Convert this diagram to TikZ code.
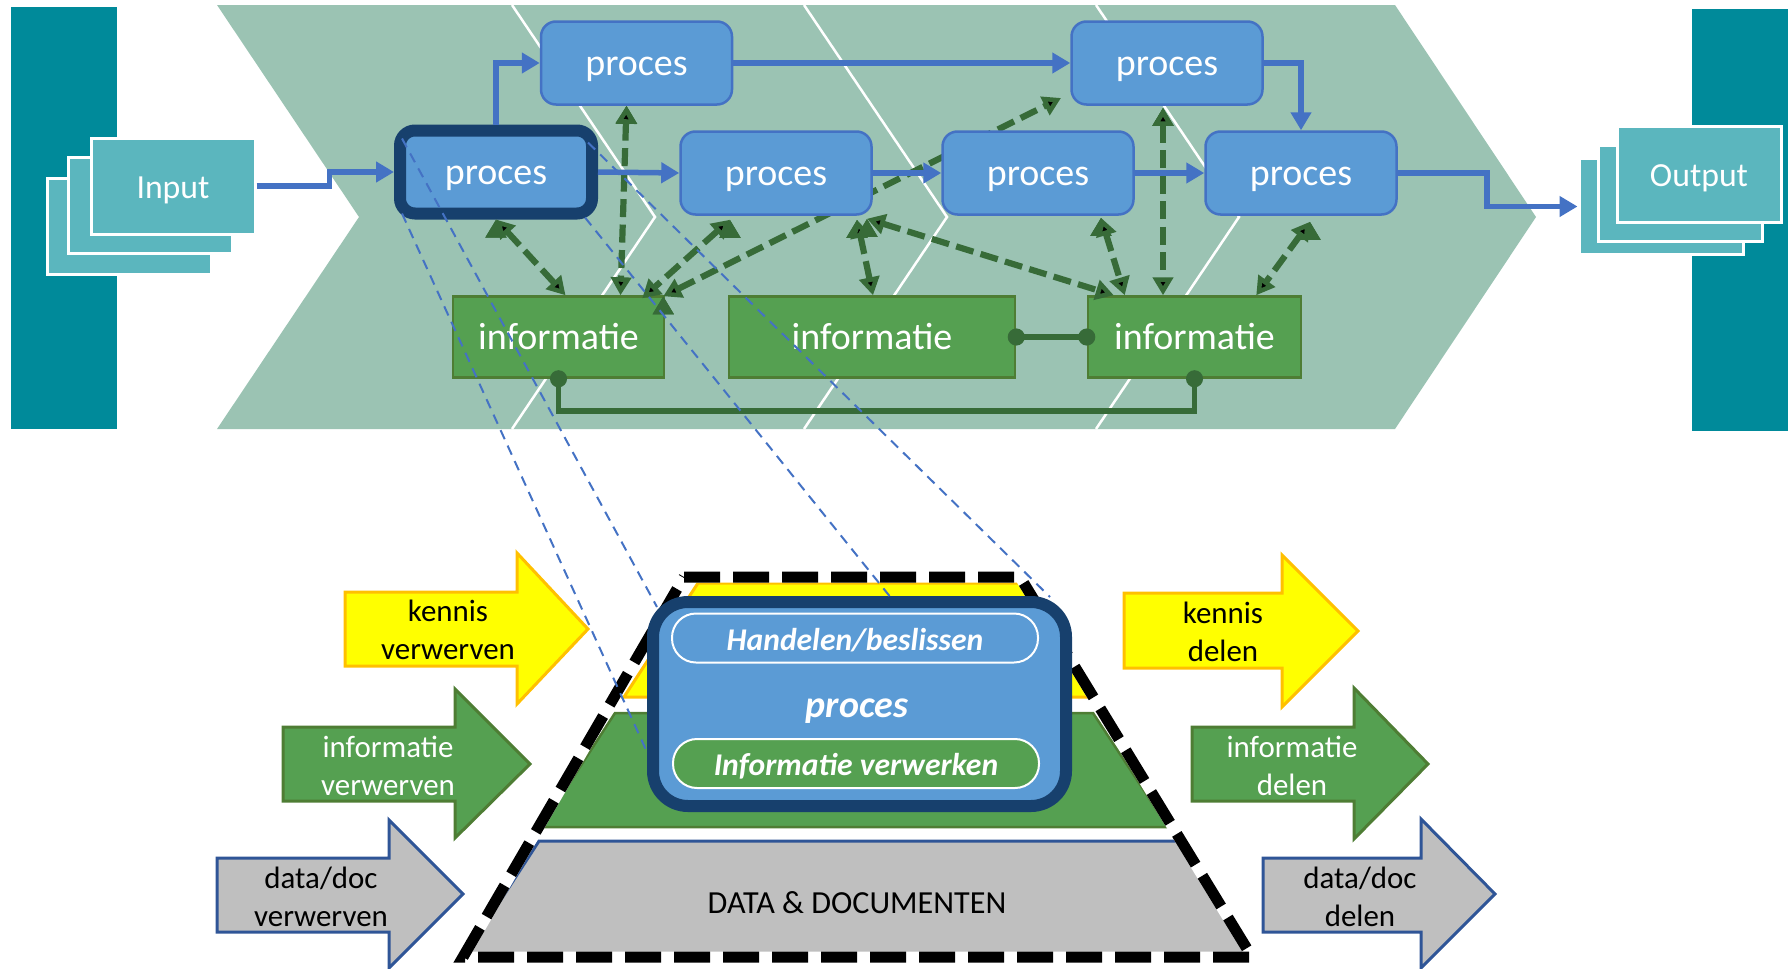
\documentclass[tikz,border=0pt]{standalone}
\usepackage{fontspec}
\setmainfont{Carlito}
\usepackage{tikz}
\usetikzlibrary{arrows.meta,positioning,calc}

\definecolor{balk}{HTML}{008A9A}
\definecolor{stapelvlak}{HTML}{5BB6BE}
\definecolor{pijlvlak}{HTML}{9BC3B3}
\definecolor{procesvlak}{HTML}{5B9BD5}
\definecolor{procesrand}{HTML}{4472C4}
\definecolor{donkerrand}{HTML}{17406D}
\definecolor{infovlak}{HTML}{55A051}
\definecolor{inforand}{HTML}{4E7D34}
\definecolor{donkergroen}{HTML}{376B38}
\definecolor{lijnblauw}{HTML}{4472C4}
\definecolor{geel}{HTML}{FFFF00}
\definecolor{geelrand}{HTML}{FFC000}
\definecolor{grijs}{HTML}{BFBFBF}
\definecolor{grijsrand}{HTML}{2F5597}

\begin{document}
\begin{tikzpicture}[x=0.1mm,y=-0.1mm,
	proces/.style={rectangle, rounded corners=1.5mm, draw=procesrand, fill=procesvlak, line width=0.25mm, minimum width=19.1mm, minimum height=8.3mm, text=white, text height=7pt, text depth=0pt, font=\fontsize{10.8pt}{12pt}\selectfont},
	info/.style={rectangle, draw=inforand, fill=infovlak, line width=0.25mm, minimum height=8.1mm, text=white, text height=7pt, text depth=0pt, font=\fontsize{10.8pt}{12pt}\selectfont},
	stapel/.style={rectangle, draw=white, fill=stapelvlak, line width=0.3mm, minimum width=16.4mm, minimum height=9.6mm, text=white, text height=7pt, text depth=0pt, font=\fontsize{9.6pt}{11pt}\selectfont},
	stroom/.style={draw=lijnblauw, line width=0.55mm, -{Triangle[length=1.8mm,width=2mm]}},
	koppeling/.style={draw=donkergroen, line width=0.62mm, dash pattern=on 1.8mm off 0.75mm, {Triangle[length=1.8mm,width=2mm]}-{Triangle[length=1.8mm,width=2mm]}},
	verbinding/.style={draw=donkergroen, line width=0.55mm, {Circle[length=1.7mm]}-{Circle[length=1.7mm]}, shorten <=-0.85mm, shorten >=-0.85mm},
	projectie/.style={draw=lijnblauw, line width=0.2mm, dash pattern=on 1mm off 0.7mm},
	pijltekst/.style={align=center, inner sep=0pt, font=\fontsize{8.8pt}{10.8pt}\selectfont},
	pil/.style={rectangle, rounded corners=2.4mm, draw=white, line width=0.2mm, minimum width=36.6mm, minimum height=4.9mm, inner sep=0pt, text=white, text height=7pt, text depth=0pt, font=\bfseries\itshape\fontsize{9pt}{10pt}\selectfont}]
	\useasboundingbox (0,0) rectangle (1788,969);

	\fill[balk] (11,7) rectangle (117,429);
	\fill[balk] (1692,9) rectangle (1788,431);
	\fill[pijlvlak] (217,5) -- (1395,5) -- (1536,217) -- (1395,429) -- (217,429) -- (359,217) -- cycle;
	\foreach \x in {512,804,1096}
		\draw[white, line width=0.25mm] (\x,5) -- (\x+143,217) -- (\x,429);

	\node[stapel] (in3) at (129.5,226) {};
	\node[stapel] (in2) at (150.5,205) {};
	\node[stapel] (input) at (173,186) {Input};
	\node[stapel] (out3) at (1661,206.5) {};
	\node[stapel] (out2) at (1680,193.5) {};
	\node[stapel] (output) at (1699,174.5) {Output};

	\node[info, minimum width=21.1mm] (i1) at (558.5,337) {informatie};
	\node[info, minimum width=28.6mm] (i2) at (872,337) {informatie};
	\node[info, minimum width=21.3mm] (i3) at (1194.5,337) {informatie};

	\path[koppeling] ($(i1.north east)+(-2,1)$) edge ($(1061,98)$);
	\node[proces, draw=donkerrand, line width=1.2mm, minimum width=19.2mm, minimum height=8.3mm] (p1) at (496,172) {proces};
	\node[proces] (p2) at (636.5,63) {proces};
	\node[proces] (p3) at (776,173) {proces};
	\node[proces] (p4) at (1038,173) {proces};
	\node[proces] (p5) at (1167,63) {proces};
	\node[proces] (p6) at (1301,173) {proces};

	\path[koppeling] (p1.south) edge ($(i1.north)+(7,0)$);
	\path[koppeling] ($(p2.south)+(-10,0)$) edge ($(i1.north)+(62,0)$);
	\path[koppeling] ($(p3.south)+(-46,4)$) edge ($(i1.north east)+(-23,3)$);
	\path[koppeling] ($(p3.south)+(81,4)$) edge ($(i2.north)+(1,0)$);
	\path[koppeling] ($(p3.south)+(91,3)$) edge ($(i3.north west)+(27,0)$);
	\path[koppeling] ($(p4.south)+(63,2)$) edge ($(i3.north west)+(38,0)$);
	\path[koppeling] ($(p5.south)+(-4,2)$) edge ($(i3.north)+(-31.5,0)$);
	\path[koppeling] ($(p6.south)+(9,6)$) edge ($(i3.north east)+(-46,0)$);

	\draw[stroom] (input.east) -- ++(73,0) |- (p1.west);
	\draw[stroom] (p1.north) |- (p2.west);
	\draw[stroom] (p1.east) -- (p3.west);
	\draw[stroom] (p2.east) -- (p5.west);
	\draw[stroom] (p3.east) -- (p4.west);
	\draw[stroom] (p4.east) -- (p6.west);
	\draw[stroom] (p5.east) -| (p6.north);
	\draw[stroom] (p6.east) -- ++(89,0) |- (out3.west);

	\draw[verbinding] (i2.east) -- (i3.west);
	\draw[verbinding] (i1.south) -- ++(0,32) -| (i3.south);

	\filldraw[fill=geel, draw=geelrand, line width=0.3mm] (698,583) -- (1020,583) -- (1091,697) -- (624,697) -- cycle;
	\filldraw[fill=infovlak, draw=inforand, line width=0.25mm] (615,713) -- (1093,713) -- (1168,827) -- (541,827) -- cycle;
	\filldraw[fill=grijs, draw=grijsrand, line width=0.3mm] (539,841) -- (1180,841) -- (1252,955) -- (465,955) -- cycle;
	\draw[white, line width=1.1mm] (684,577) -- (1020,577) -- (1252,957) -- (463,957) -- cycle;
	\draw[black, line width=1.1mm, dash pattern=on 3.6mm off 1.3mm] (684,577) -- (1020,577) -- (1252,957) -- (463,957) -- cycle;
	\node[pijltekst, font=\fontsize{9.15pt}{11pt}\selectfont] (data) at (857,903) {DATA \& DOCUMENTEN};

	\filldraw[fill=geel, draw=geelrand, line width=0.3mm] (345,592) -- (517,592) -- (517,553) -- (588,629) -- (517,704) -- (517,666) -- (345,666) -- cycle;
	\filldraw[fill=infovlak, draw=inforand, line width=0.3mm] (283,727) -- (455,727) -- (455,689) -- (530,764) -- (455,838) -- (455,801) -- (283,801) -- cycle;
	\filldraw[fill=grijs, draw=grijsrand, line width=0.3mm] (217,858) -- (389,858) -- (389,820) -- (463,894) -- (389,968) -- (389,932) -- (217,932) -- cycle;
	\filldraw[fill=geel, draw=geelrand, line width=0.3mm] (1124,593) -- (1282,593) -- (1282,555) -- (1358,631) -- (1282,707) -- (1282,668) -- (1124,668) -- cycle;
	\filldraw[fill=infovlak, draw=inforand, line width=0.3mm] (1192,727) -- (1354,727) -- (1354,688) -- (1428,764) -- (1354,839) -- (1354,801) -- (1192,801) -- cycle;
	\filldraw[fill=grijs, draw=grijsrand, line width=0.3mm] (1263,858) -- (1421,858) -- (1421,819) -- (1495,894) -- (1421,968) -- (1421,932) -- (1263,932) -- cycle;

	\node[pijltekst] (kennisin) at (448,630) {kennis\\verwerven};
	\node[pijltekst, text=white] (infoin) at (388,766) {informatie\\verwerven};
	\node[pijltekst] (datain) at (321,897) {data/doc\\verwerven};
	\node[pijltekst] (kennisuit) at (1223,632) {kennis\\delen};
	\node[pijltekst, text=white] (infouit) at (1292,766) {informatie\\delen};
	\node[pijltekst] (datauit) at (1360,897) {data/doc\\delen};

	\node[rectangle, rounded corners=3.5mm, draw=donkerrand, fill=procesvlak, line width=1.2mm, minimum width=41.3mm, minimum height=20.4mm] (groot) at (859.5,704) {};
	\node[pil, fill=procesvlak] (handelen) at (855,638) {Handelen/beslissen};
	\node[text=white, text height=7pt, text depth=0pt, font=\bfseries\itshape\fontsize{10.8pt}{12pt}\selectfont] (kern) at (857,705) {proces};
	\node[pil, fill=infovlak] (verwerken) at (856,763.5) {Informatie verwerken};

	\draw[projectie] ($(p1.north west)+(8,14)$) -- ($(groot.north west)+(10,11)$);
	\draw[projectie] ($(p1.south west)+(8,-6)$) -- ($(groot.west)+(0,48)$);
	\draw[projectie] ($(p1.north east)+(-10,18)$) -- ($(groot.north east)+(-22,1)$);
	\draw[projectie] ($(p1.south east)+(-13,-2)$) -- ($(groot.north)+(30,0)$);
\end{tikzpicture}
\end{document}
